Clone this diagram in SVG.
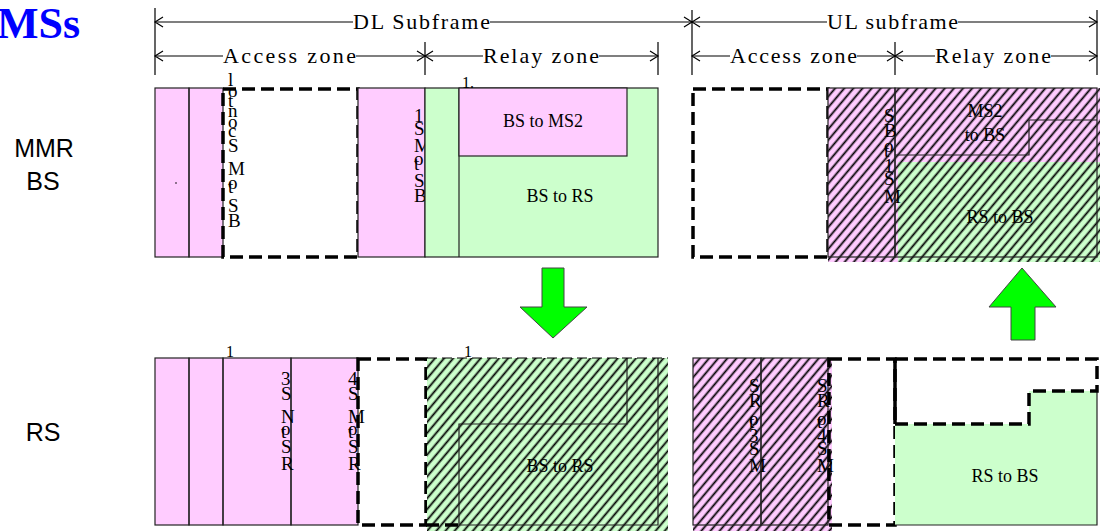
<svg xmlns="http://www.w3.org/2000/svg" width="1101" height="531" viewBox="0 0 1101 531">
<style>
.pink{fill:#FFCCFF}
.green{fill:#CCFFCC}
.ol{fill:none;stroke:#222;stroke-width:1.2}
.dash{fill:none;stroke:#000;stroke-width:3.5;stroke-dasharray:13 6}
.dim{fill:none;stroke:#000;stroke-width:1.2}
.hd{font-family:"Liberation Serif",serif;font-size:22px;fill:#000}
.bt{font-family:"Liberation Serif",serif;font-size:18px;fill:#000;text-anchor:middle}
.v{font-family:"Liberation Serif",serif;font-size:19px;fill:#000}
.lbl{font-family:"Liberation Sans",sans-serif;font-size:25px;fill:#000;text-anchor:middle}
.arrow{fill:#00FF00;stroke:#444;stroke-width:1}
.sm{font-family:"Liberation Serif",serif;font-size:16px;fill:#000}
</style>
<defs>
<pattern id="hatch" patternUnits="userSpaceOnUse" width="7" height="7" patternTransform="rotate(40)">
<line x1="3.5" y1="-1" x2="3.5" y2="8" stroke="#000" stroke-width="1.8"/>
</pattern>
</defs>
<rect width="1101" height="531" fill="#fff"/>

<text x="80" y="38" text-anchor="end" font-family="Liberation Serif,serif" font-weight="bold" font-size="44" fill="#0000FF">MSs</text>

<g id="dimensions">
<path class="dim" d="M155,8V75M425,42V75M658,42V75M692,10V75M895,42V75M1097,10V75"/>
<path class="dim" d="M155,22H353M490,22H692M692,22H827M958,22H1097"/>
<path class="dim" d="M155,56H223M356,56H425M425,56H483M599,56H658M692,56H730M857,56H895M895,56H935M1051,56H1097"/>
<path class="dim" d="M163,17L155,22L163,27M684,17L692,22L684,27M700,17L692,22L700,27M1089,17L1097,22L1089,27"/>
<path class="dim" d="M163,51L155,56L163,61M417,51L425,56L417,61M433,51L425,56L433,61M650,51L658,56L650,61M700,51L692,56L700,61M887,51L895,56L887,61M903,51L895,56L903,61M1089,51L1097,56L1089,61"/>
<text class="hd" x="353" y="29" textLength="137" lengthAdjust="spacing">DL Subframe</text>
<text class="hd" x="827" y="29" textLength="131" lengthAdjust="spacing">UL subframe</text>
<text class="hd" x="223" y="63" textLength="133" lengthAdjust="spacing">Access zone</text>
<text class="hd" x="483" y="63" textLength="116" lengthAdjust="spacing">Relay zone</text>
<text class="hd" x="730" y="63" textLength="127" lengthAdjust="spacing">Access zone</text>
<text class="hd" x="935" y="63" textLength="116" lengthAdjust="spacing">Relay zone</text>
</g>

<g id="row-labels">
<text class="lbl" x="44" y="157">MMR</text>
<text class="lbl" x="43" y="190">BS</text>
<text class="lbl" x="43" y="441">RS</text>
</g>

<g id="bs-dl-access">
<rect class="pink" x="155" y="88" width="68" height="169"/>
<rect class="ol" x="155" y="88" width="34" height="169"/>
<rect class="ol" x="189" y="88" width="34" height="169"/>
<circle cx="176" cy="183" r="0.8" fill="#000"/>
<rect class="dash" x="223" y="89" width="135" height="168"/>
<text class="v"><tspan x="228" y="86">l</tspan><tspan x="228" y="97">o</tspan><tspan x="228" y="107">t</tspan><tspan x="228" y="117">n</tspan><tspan x="228" y="128">o</tspan><tspan x="228" y="137">c</tspan><tspan x="228" y="152">S</tspan><tspan x="228" y="175">M</tspan><tspan x="228" y="189">o</tspan><tspan x="228" y="193">t</tspan><tspan x="228" y="212">S</tspan><tspan x="228" y="227">B</tspan></text>
</g>

<g id="bs-dl-ms1">
<rect class="pink" x="358" y="88" width="67" height="169"/>
<rect class="ol" x="358" y="88" width="67" height="169"/>
<text class="v"><tspan x="414" y="122">1</tspan><tspan x="414" y="135">S</tspan><tspan x="414" y="152">M</tspan><tspan x="414" y="165">o</tspan><tspan x="414" y="170">t</tspan><tspan x="414" y="187">S</tspan><tspan x="414" y="202">B</tspan></text>
</g>

<g id="bs-dl-relay">
<rect class="green" x="425" y="88" width="233" height="169"/>
<rect class="ol" x="425" y="88" width="233" height="169"/>
<line class="ol" x1="459" y1="88" x2="459" y2="257"/>
<rect class="pink" x="459" y="88" width="168" height="68"/>
<rect class="ol" x="459" y="88" width="168" height="68"/>
<text class="bt" x="543" y="127">BS to MS2</text>
<text class="bt" x="560" y="202">BS to RS</text>
<text class="sm" x="462" y="88">1.</text>
</g>

<g id="bs-ul-access">
<rect class="dash" x="693" y="89" width="135" height="168"/>
</g>

<g id="bs-ul-relay">
<rect class="pink" x="828" y="88" width="272" height="74"/>
<rect class="pink" x="828" y="162" width="70" height="100"/>
<rect class="green" x="898" y="162" width="202" height="100"/>
<rect x="828" y="88" width="272" height="174" fill="url(#hatch)"/>
<rect class="ol" x="828" y="88" width="67" height="169"/>
<rect class="ol" x="895" y="88" width="202" height="169"/>
<path class="ol" d="M1097,120H1029V155H895"/>
<text class="v"><tspan x="884" y="122">S</tspan><tspan x="884" y="137">B</tspan><tspan x="884" y="152">o</tspan><tspan x="884" y="157">t</tspan><tspan x="884" y="172">1</tspan><tspan x="884" y="185">S</tspan><tspan x="884" y="203">M</tspan></text>
<text class="bt" x="985" y="117">MS2</text>
<text class="bt" x="985" y="141">to BS</text>
<text class="bt" x="1000" y="223">RS to BS</text>
</g>

<g id="rs-dl-access">
<rect class="pink" x="155" y="358" width="203" height="167"/>
<rect class="ol" x="155" y="358" width="34" height="167"/>
<rect class="ol" x="189" y="358" width="34" height="167"/>
<rect class="ol" x="223" y="358" width="68" height="167"/>
<rect class="ol" x="291" y="358" width="67" height="167"/>
<text class="sm" x="226" y="357">1</text>
<text class="v"><tspan x="281" y="385">3</tspan><tspan x="281" y="400">S</tspan><tspan x="281" y="423">N</tspan><tspan x="281" y="435">o</tspan><tspan x="281" y="438">t</tspan><tspan x="281" y="453">S</tspan><tspan x="281" y="470">R</tspan></text>
<text class="v"><tspan x="348" y="385">4</tspan><tspan x="348" y="400">S</tspan><tspan x="348" y="423">M</tspan><tspan x="348" y="435">o</tspan><tspan x="348" y="438">t</tspan><tspan x="348" y="453">S</tspan><tspan x="348" y="470">R</tspan></text>
<rect class="dash" x="358" y="359" width="68" height="166"/>
</g>

<g id="rs-dl-relay">
<rect class="green" x="427" y="358" width="241" height="173"/>
<rect x="427" y="358" width="241" height="173" fill="url(#hatch)"/>
<path class="ol" d="M627,358V424H459V525H658V358"/>
<line x1="427" y1="358" x2="668" y2="358" stroke="#000" stroke-width="1.2" stroke-dasharray="10 5"/>
<line class="dash" x1="426" y1="525" x2="458" y2="525"/>
<text class="bt" x="560" y="472">BS to RS</text>
<text class="sm" x="464" y="357">1</text>
</g>

<g id="rs-ul-access">
<rect class="pink" x="693" y="358" width="139" height="173"/>
<rect x="693" y="358" width="139" height="173" fill="url(#hatch)"/>
<rect class="ol" x="693" y="358" width="68" height="167"/>
<rect class="ol" x="761" y="358" width="67" height="167"/>
<text class="v"><tspan x="749" y="392">S</tspan><tspan x="749" y="407">R</tspan><tspan x="749" y="425">o</tspan><tspan x="749" y="428">t</tspan><tspan x="749" y="442">3</tspan><tspan x="749" y="455">S</tspan><tspan x="749" y="472">M</tspan></text>
<text class="v"><tspan x="817" y="392">S</tspan><tspan x="817" y="407">R</tspan><tspan x="817" y="425">o</tspan><tspan x="817" y="428">t</tspan><tspan x="817" y="442">4</tspan><tspan x="817" y="455">S</tspan><tspan x="817" y="472">M</tspan></text>
<rect class="dash" x="829" y="359" width="66" height="166"/>
</g>

<g id="rs-ul-relay">
<path class="green" d="M895,424H1029V391H1097V525H895Z"/>
<path class="ol" d="M1097,391V525H895"/>
<path class="dash" d="M895,359H1097V391H1029V424H895"/>
<line x1="895" y1="359" x2="895" y2="424" stroke="#000" stroke-width="3.5"/>
<text class="bt" x="1005" y="482">RS to BS</text>
</g>

<g id="connectors">
<path class="arrow" d="M542,268H564V307H587L553,338L520,307H542Z"/>
<path class="arrow" d="M1022,268L1056,307H1035V340H1011V307H989Z"/>
</g>
</svg>
